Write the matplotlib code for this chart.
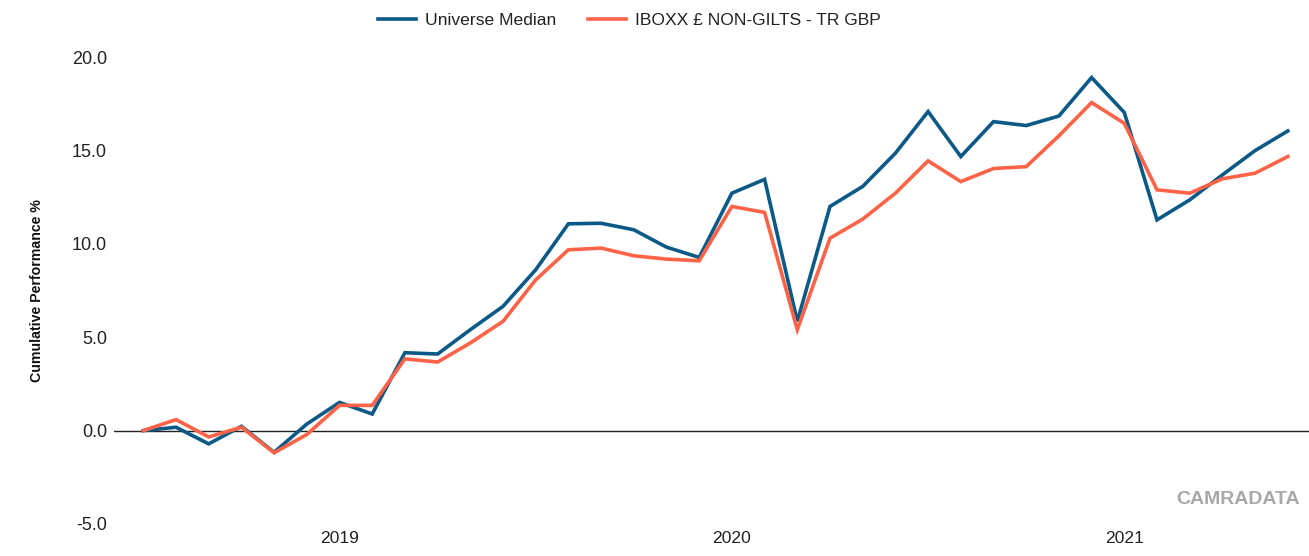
import matplotlib
matplotlib.use("Agg")
import matplotlib.pyplot as plt

# Monthly data, Jul 2018 .. Jun 2021
months = ["2018-07", "2018-08", "2018-09", "2018-10", "2018-11", "2018-12",
          "2019-01", "2019-02", "2019-03", "2019-04", "2019-05", "2019-06",
          "2019-07", "2019-08", "2019-09", "2019-10", "2019-11", "2019-12",
          "2020-01", "2020-02", "2020-03", "2020-04", "2020-05", "2020-06",
          "2020-07", "2020-08", "2020-09", "2020-10", "2020-11", "2020-12",
          "2021-01", "2021-02", "2021-03", "2021-04", "2021-05", "2021-06"]

universe_median = [0.0, 0.18, -0.71, 0.23, -1.16, 0.35,
                   1.51, 0.89, 4.17, 4.10, 5.40, 6.65,
                   8.61, 11.07, 11.10, 10.75, 9.82, 9.27,
                   12.71, 13.45, 5.85, 12.0, 13.07, 14.85,
                   17.08, 14.67, 16.54, 16.33, 16.84, 18.9,
                   17.03, 11.28, 12.35, 13.69, 14.99, 16.04]

iboxx = [0.0, 0.59, -0.34, 0.18, -1.19, -0.21,
         1.35, 1.35, 3.84, 3.67, 4.69, 5.85,
         8.07, 9.68, 9.77, 9.36, 9.18, 9.09,
         12.0, 11.68, 5.4, 10.3, 11.32, 12.71,
         14.44, 13.33, 14.03, 14.13, 15.78, 17.56,
         16.45, 12.89, 12.71, 13.48, 13.78, 14.67]

series_names = ["Universe Median", "IBOXX £ NON-GILTS - TR GBP"]
year_labels = ["2019", "2020", "2021"]
y_ticks = [-5.0, 0.0, 5.0, 10.0, 15.0, 20.0]

NARROW = ["Liberation Sans Narrow", "Liberation Sans", "DejaVu Sans"]
BLUE = "#0b5986"
RED = "#ff6347"

fig = plt.figure(figsize=(13.09, 5.56), dpi=100)
W, H = 1309, 556
ax = fig.add_axes([114 / W, (H - 524) / H, (1309 - 114) / W, (524 - 57) / H])

x = list(range(len(months)))
ax.plot(x, universe_median, color=BLUE, lw=2.6, label=series_names[0],
        solid_joinstyle="miter", zorder=3)
ax.plot(x, iboxx, color=RED, lw=2.6, label=series_names[1],
        solid_joinstyle="miter", zorder=4)

ax.axhline(0, color="#222222", lw=1.0, zorder=2)

x0 = -(143.3 - 114) / 32.7
x1 = x0 + (1309 - 114) / 32.7
ax.set_xlim(x0, x1)
ax.set_ylim(-5, 20)

for s in ax.spines.values():
    s.set_visible(False)

ax.set_yticks(y_ticks)
ax.set_yticklabels([f"{v:.1f}" for v in y_ticks], family=NARROW, fontsize=13,
                   color="#222222")
year_pos = [months.index(y + "-01") for y in year_labels]
ax.set_xticks(year_pos)
ax.set_xticklabels(year_labels, family=NARROW, fontsize=12.6, color="#222222")
ax.tick_params(axis="both", length=0)
ax.tick_params(axis="y", pad=5)
ax.tick_params(axis="x", pad=5)

fig.text(37 / W, 1 - 291 / H, "Cumulative Performance %", rotation=90,
         ha="center", va="center", fontsize=10.2, fontweight="bold",
         family=["Liberation Sans", "DejaVu Sans"], color="#111111")

fig.text(1300 / W, 1 - 500 / H, "CAMRADATA", ha="right", va="center",
         fontsize=14, fontweight="bold", family=NARROW, color="#a8a8a8")

leg = fig.legend(loc="center", bbox_to_anchor=(629 / W, 1 - 20 / H), ncol=2,
                 frameon=False, prop={"family": NARROW, "size": 12.6},
                 handlelength=2.2, handletextpad=0.5, columnspacing=1.8)
for t in leg.get_texts():
    t.set_color("#222222")

fig.savefig("out.png", dpi=100)
